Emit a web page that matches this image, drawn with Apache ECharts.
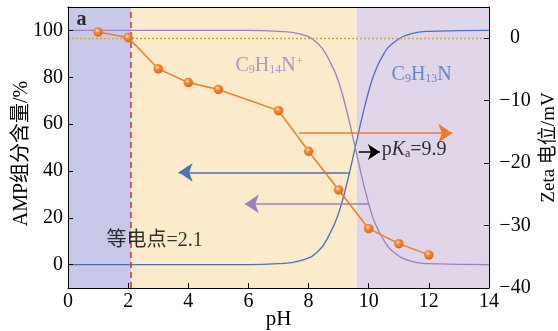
<!DOCTYPE html>
<html>
<head>
<meta charset="utf-8">
<script src="https://cdn.jsdelivr.net/npm/echarts@6/dist/echarts.min.js"></script>
<style>
  html, body { margin: 0; padding: 0; background: #fff; }
  #chart { width: 558px; height: 331px; }
</style>
</head>
<body>
<div id="chart"></div>
<script>
// Zeta potential of AMP against pH (right axis)
const zetaPH = [1, 2, 3, 4, 5, 7, 8, 9, 10, 11, 12];
const zetaMV = [1.0, 0.1, -4.9, -7.1, -8.2, -11.6, -18.1, -24.3, -30.5, -32.9, -34.7];

// Species fractions of AMP, % (left axis)
const speciesPH = [0, 6, 7, 7.7, 8.3, 8.7, 9.0, 9.3, 9.55, 9.8, 10.0, 10.2, 10.5, 10.8, 11.4, 12, 14];
const cationPct = [100, 100, 99.6, 98.5, 94.5, 87, 78, 64, 50, 36, 26, 18, 10.5, 5.6, 1.5, 0.4, 0];
const neutralPct = [0, 0, 0.4, 1.6, 5.5, 13, 22, 36, 50, 64, 74, 82, 90, 94.5, 98.5, 99.6, 100];

// Key pH values
const isoelectricPH = 2.1;
const regionEdges = [0, 2.1, 9.6, 14];
const regionColors = ['#c8c9e8', '#fbebcb', '#e0d5e9'];

// Axis ticks
const leftTicks = [0, 20, 40, 60, 80, 100];
const rightTicks = [-40, -30, -20, -10, 0];

// Arrows: [startPH, endPH, level]
const arrowZeta = [7.68, 12.78, -15.2];     // right axis
const arrowNeutral = [9.37, 3.68, 39.4];    // left axis
const arrowCation = [10.0, 5.88, 25.9];     // left axis
const arrowPKa = [9.67, 10.37, 48.1];       // left axis

const FONT = '"Liberation Serif", "Times New Roman", "Noto Sans CJK SC", serif';
const C_ORANGE = '#f07a28';
const C_BLUE = '#4a70c0';
const C_PURPLE = '#9a80c2';

function richSet(color) {
  return {
    n: { fontSize: 20, fontFamily: FONT, color: color },
    b: { fontSize: 20, fontFamily: FONT, color: color, fontWeight: 'bold' },
    i: { fontSize: 20, fontFamily: FONT, color: color, fontStyle: 'italic' },
    s: { fontSize: 12, fontFamily: FONT, color: color, verticalAlign: 'bottom' },
    u: { fontSize: 13, fontFamily: FONT, color: color, verticalAlign: 'top' }
  };
}

// Text notes: [pH, left-axis value, rich text, colour]
const notes = [
  [0.28, 104.6, '{b|a}', '#000'],
  [5.57, 85, '{n|C}{s|9}{n|H}{s|14}{n|N}{u|+}', C_PURPLE],
  [10.76, 81, '{n|C}{s|9}{n|H}{s|13}{n|N}', C_BLUE],
  [10.43, 49.1, '{n|p}{i|K}{s|a}{n|=9.9}', '#000'],
  [1.28, 10.1, '{n|等电点=2.1}', '#000']
];

function minus(v) { return v < 0 ? '\u2212' + Math.abs(v) : String(v); }

function arrowSeries(a, color, yIdx, size) {
  return {
    type: 'lines',
    coordinateSystem: 'cartesian2d',
    xAxisIndex: 0,
    yAxisIndex: yIdx,
    z: 6,
    symbol: ['none', 'arrow'],
    symbolSize: size,
    lineStyle: { color: color, width: 1.5, opacity: 1, curveness: 0 },
    data: [{ coords: [[a[0], a[2]], [a[1], a[2]]] }],
    silent: true
  };
}

const chart = echarts.init(document.getElementById('chart'), null, { renderer: 'canvas' });

const axisText = { fontSize: 20, color: '#000', fontFamily: FONT };
const blackLine = { show: true, onZero: false, lineStyle: { color: '#000', width: 1 } };

chart.setOption({
  animation: false,
  grid: { left: 68, right: 69, top: 7, bottom: 43, containLabel: false, outerBoundsMode: 'none' },
  xAxis: [{
    type: 'value', min: 0, max: 14, interval: 2, z: 10,
    axisLine: blackLine,
    axisTick: { show: true, inside: true, length: 5, lineStyle: { color: '#000' } },
    axisLabel: Object.assign({ margin: 4 }, axisText),
    splitLine: { show: false },
    name: 'pH', nameLocation: 'middle', nameGap: 21, nameMoveOverlap: false,
    nameTextStyle: { fontSize: 21, color: '#000', fontFamily: FONT }
  }, {
    type: 'value', min: 0, max: 14, position: 'top', z: 10,
    axisLine: blackLine,
    axisTick: { show: false }, axisLabel: { show: false }, splitLine: { show: false }
  }],
  yAxis: [{
    type: 'value', min: -10, max: 110, z: 10,
    axisLine: blackLine,
    axisTick: { show: true, inside: true, length: 5, customValues: leftTicks, lineStyle: { color: '#000' } },
    axisLabel: Object.assign({ margin: 5, customValues: leftTicks }, axisText),
    splitLine: { show: false },
    name: 'AMP组分含量/%', nameLocation: 'middle', nameGap: 36, nameRotate: 90, nameMoveOverlap: false,
    nameTextStyle: { fontSize: 20, color: '#000', fontFamily: FONT, padding: [0, 12, 0, 0] }
  }, {
    type: 'value', min: -40, max: 5, position: 'right', z: 10,
    axisLine: blackLine,
    axisTick: { show: true, inside: true, length: 5, customValues: rightTicks, lineStyle: { color: '#000' } },
    axisLabel: Object.assign({ margin: 26, align: 'center', customValues: rightTicks, formatter: minus }, axisText),
    splitLine: { show: false },
    name: 'Zeta 电位/mV', nameLocation: 'middle', nameGap: 51, nameRotate: 90, nameMoveOverlap: false,
    nameTextStyle: { fontSize: 19, color: '#000', fontFamily: FONT }
  }],
  series: [
    {
      // pH regions, isoelectric point and zero potential reference
      type: 'line', yAxisIndex: 1, z: 1, data: [], silent: true,
      markArea: {
        silent: true,
        data: regionColors.map((c, k) => [
          { xAxis: regionEdges[k], itemStyle: { color: c, opacity: 1 } },
          { xAxis: regionEdges[k + 1] }
        ])
      },
      markLine: {
        silent: true, symbol: 'none', label: { show: false },
        data: [
          { yAxis: 0, lineStyle: { color: '#d4a63a', type: [2, 2], width: 1.3 } },
          { xAxis: isoelectricPH, lineStyle: { color: '#e02a2a', type: [6, 4], width: 1.5 } }
        ]
      }
    },
    {
      name: 'C9H13N', type: 'line', yAxisIndex: 0, z: 3, smooth: 0.5,
      symbol: 'none', lineStyle: { color: C_BLUE, width: 1.3 },
      data: speciesPH.map((x, k) => [x, neutralPct[k]])
    },
    {
      name: 'C9H14N+', type: 'line', yAxisIndex: 0, z: 3, smooth: 0.5,
      symbol: 'none', lineStyle: { color: C_PURPLE, width: 1.3 },
      data: speciesPH.map((x, k) => [x, cationPct[k]])
    },
    arrowSeries(arrowZeta, C_ORANGE, 1, [11, 14]),
    arrowSeries(arrowNeutral, C_BLUE, 0, [11, 14]),
    arrowSeries(arrowCation, C_PURPLE, 0, [11, 14]),
    arrowSeries(arrowPKa, '#000', 0, [10, 12]),
    {
      name: 'Zeta', type: 'line', yAxisIndex: 1, z: 8,
      symbol: 'circle', symbolSize: 9.5,
      lineStyle: { color: C_ORANGE, width: 1.5 },
      itemStyle: {
        color: {
          type: 'radial', x: 0.4, y: 0.35, r: 0.65,
          colorStops: [
            { offset: 0, color: '#fde6cf' },
            { offset: 0.35, color: '#f68c3e' },
            { offset: 1, color: '#e3620f' }
          ]
        },
        borderWidth: 0
      },
      data: zetaPH.map((x, k) => [x, zetaMV[k]])
    },
    {
      type: 'scatter', yAxisIndex: 0, z: 9, symbolSize: 0, silent: true,
      data: notes.map(n => ({
        value: [n[0], n[1]],
        label: {
          show: true, position: 'right', distance: 0,
          formatter: n[2], rich: richSet(n[3])
        }
      }))
    }
  ]
});
</script>
</body>
</html>
